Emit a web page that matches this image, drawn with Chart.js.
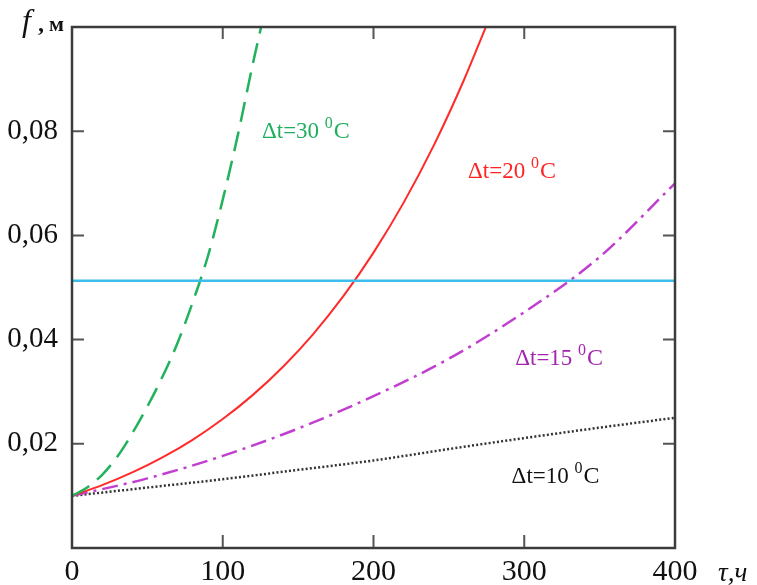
<!DOCTYPE html>
<html>
<head>
<meta charset="utf-8">
<script src="https://cdn.jsdelivr.net/npm/chart.js@4.4.0/dist/chart.umd.min.js"></script>
<style>
html,body{margin:0;padding:0;background:#fff;}
#wrap{width:757px;height:585px;position:relative;}
</style>
</head>
<body>
<div id="wrap"><canvas id="c" width="757" height="585"></canvas></div>
<script>
// ---- data ----
const xTicks = [0, 100, 200, 300, 400];
const yTicks = [0.02, 0.04, 0.06, 0.08];
const yTickLabels = ["0,02", "0,04", "0,06", "0,08"];

const t30x = [0, 10, 20, 30, 40, 50, 60, 70, 80, 90, 100, 110, 120, 126];
const t30y = [0.0100, 0.01162, 0.01405, 0.01751, 0.02203, 0.02718, 0.03287, 0.03935, 0.04712, 0.05585, 0.06686, 0.07925, 0.0930, 0.1007];

const t20x = [0, 20, 40, 60, 80, 100, 120, 140, 160, 180, 200, 220, 240, 260, 275];
const t20y = [0.0100, 0.01206, 0.01450, 0.01739, 0.02077, 0.02475, 0.02939, 0.03479, 0.04107, 0.04833, 0.05669, 0.06629, 0.07728, 0.08983, 0.10033];

const t15x = [0, 50, 100, 150, 200, 250, 300, 350, 400];
const t15y = [0.0100, 0.01336, 0.01768, 0.02293, 0.02915, 0.03633, 0.04527, 0.05585, 0.0700];

const t10x = [0, 50, 100, 150, 200, 250, 300, 350, 400];
const t10y = [0.0100, 0.0116, 0.0132, 0.0150, 0.0168, 0.0190, 0.0211, 0.0231, 0.0250];

const limitX = [0, 400];
const limitY = [0.0513, 0.0513];

const labelTexts = ["Δt=30 ", "Δt=20 ", "Δt=15 ", "Δt=10 "];
const labelX = [126, 262.7, 294, 291.6];
const labelY = [0.0787, 0.0710, 0.0351, 0.0125];
const labelColors = ["#1fae5e", "#ff2424", "#a424b0", "#111111"];

const pts = (xs, ys) => xs.map((x, i) => ({x: x, y: ys[i]}));

const framePlugin = {
  id: 'frame',
  afterDatasetsDraw(chart) {
    const {ctx, chartArea: a, scales} = chart;
    const xs = scales.x, ys = scales.y;
    ctx.save();
    // inward ticks
    ctx.strokeStyle = '#555';
    ctx.lineWidth = 2;
    ctx.beginPath();
    xTicks.slice(1, -1).forEach(v => {
      const px = xs.getPixelForValue(v);
      ctx.moveTo(px, a.bottom); ctx.lineTo(px, a.bottom - 13);
      ctx.moveTo(px, a.top); ctx.lineTo(px, a.top + 12);
    });
    yTicks.forEach(v => {
      const py = ys.getPixelForValue(v);
      ctx.moveTo(a.left, py); ctx.lineTo(a.left + 12, py);
      ctx.moveTo(a.right, py); ctx.lineTo(a.right - 12, py);
    });
    ctx.stroke();
    // frame
    ctx.strokeStyle = '#3c3c3c';
    ctx.lineWidth = 2.5;
    ctx.strokeRect(a.left, a.top, a.right - a.left, a.bottom - a.top);
    // curve labels
    labelTexts.forEach((t, i) => {
      let px = xs.getPixelForValue(labelX[i]);
      const py = ys.getPixelForValue(labelY[i]);
      ctx.fillStyle = labelColors[i];
      ctx.textBaseline = 'alphabetic';
      ctx.textAlign = 'left';
      ctx.font = '23px "Liberation Serif"';
      ctx.fillText(t, px, py);
      px += ctx.measureText(t).width;
      ctx.font = '16px "Liberation Serif"';
      ctx.fillText('0', px, py - 10);
      px += ctx.measureText('0').width + 1;
      ctx.font = '24px "Liberation Serif"';
      ctx.fillText('C', px, py);
    });
    // axis titles
    ctx.fillStyle = '#111';
    ctx.font = 'italic 32px "Liberation Serif"';
    ctx.fillText('f', 22, 31);
    ctx.font = 'bold 24px "Liberation Serif"';
    ctx.fillText(',', 38, 31);
    ctx.font = 'bold 22px "Liberation Serif"';
    ctx.fillText('м', 49, 31);
    ctx.font = 'italic 27px "Liberation Serif"';
    ctx.fillText('τ,ч', 718, 581);
    ctx.restore();
  }
};

new Chart(document.getElementById('c'), {
  type: 'line',
  data: {
    datasets: [
      {data: pts(limitX, limitY), borderColor: '#3dbdec', borderWidth: 2.5, pointRadius: 0},
      {data: pts(t30x, t30y), borderColor: '#22b25e', borderWidth: 2.5, borderDash: [20, 10], pointRadius: 0, cubicInterpolationMode: 'monotone'},
      {data: pts(t20x, t20y), borderColor: '#ff2a2a', borderWidth: 2, pointRadius: 0, cubicInterpolationMode: 'monotone'},
      {data: pts(t15x, t15y), borderColor: '#c03fcf', borderWidth: 2.5, borderDash: [16, 6, 3, 6], pointRadius: 0, cubicInterpolationMode: 'monotone'},
      {data: pts(t10x, t10y), borderColor: '#333', borderWidth: 2.5, borderDash: [2, 2.2], pointRadius: 0, cubicInterpolationMode: 'monotone'}
    ]
  },
  options: {
    responsive: false,
    animation: false,
    clip: true,
    layout: {padding: {top: 27, right: 82, left: 0, bottom: 0}},
    plugins: {legend: {display: false}, tooltip: {enabled: false}},
    scales: {
      x: {
        type: 'linear', min: 0, max: 400,
        afterBuildTicks: s => { s.ticks = xTicks.map(v => ({value: v})); },
        afterFit: s => { s.height = 37; s.paddingLeft = 0; s.paddingRight = 0; },
        grid: {display: false, drawTicks: false},
        border: {display: false},
        ticks: {color: '#111', font: {family: 'Liberation Serif', size: 30}, padding: 6, maxRotation: 0,
                callback: v => String(v)}
      },
      y: {
        type: 'linear', min: 0, max: 0.1,
        afterBuildTicks: s => { s.ticks = yTicks.map(v => ({value: v})); },
        afterFit: s => { s.width = 72; s.paddingTop = 0; s.paddingBottom = 0; },
        grid: {display: false, drawTicks: false},
        border: {display: false},
        ticks: {color: '#111', font: {family: 'Liberation Serif', size: 29}, padding: 14,
                callback: v => { const i = yTicks.findIndex(t => Math.abs(t - v) < 1e-9); return i >= 0 ? yTickLabels[i] : ''; }}
      }
    }
  },
  plugins: [framePlugin]
});
</script>
</body>
</html>
